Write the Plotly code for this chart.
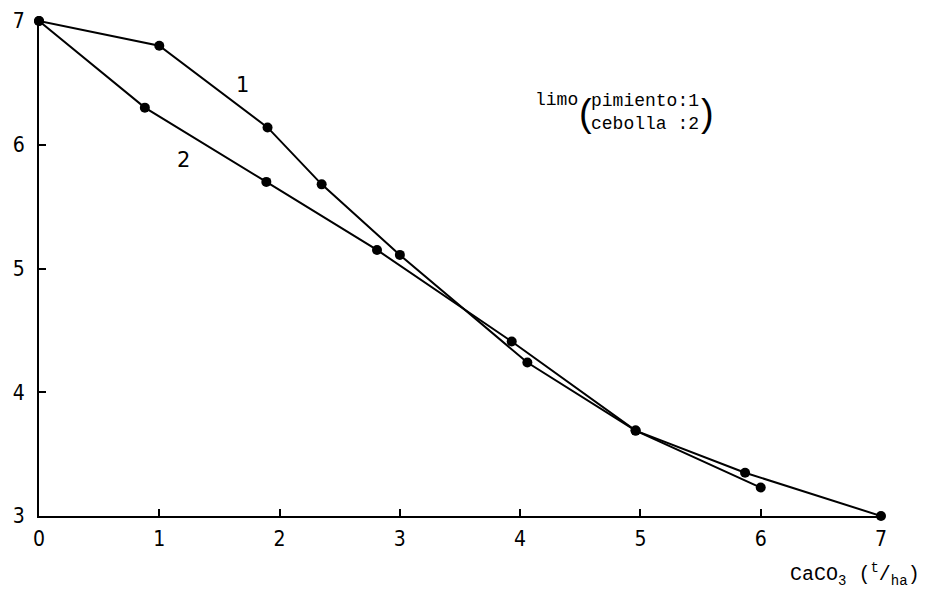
import plotly.graph_objects as go

# Series 1: pimiento
x1 = [0, 1.0, 1.9, 2.35, 3.0, 4.06, 4.96, 6.0]
y1 = [7.0, 6.8, 6.14, 5.68, 5.11, 4.24, 3.69, 3.23]
# Series 2: cebolla
x2 = [0, 0.88, 1.89, 2.81, 3.93, 4.96, 5.87, 7.0]
y2 = [7.0, 6.30, 5.70, 5.15, 4.41, 3.69, 3.35, 3.0]

xticks = [0, 1, 2, 3, 4, 5, 6, 7]
yticks = [3, 4, 5, 6, 7]

tickfont = dict(family="Liberation Sans Narrow, DejaVu Sans Condensed, Liberation Sans", size=21, color="black")
mono = "Liberation Mono, DejaVu Sans Mono, monospace"

fig = go.Figure()
for xs, ys in [(x1, y1), (x2, y2)]:
    fig.add_trace(go.Scatter(
        x=xs, y=ys, mode="lines+markers",
        line=dict(color="black", width=2),
        marker=dict(color="black", size=10),
        cliponaxis=False, showlegend=False,
    ))

fig.update_layout(
    width=917, height=587,
    margin=dict(l=31, r=44, t=13, b=79, autoexpand=False),
    plot_bgcolor="white", paper_bgcolor="white",
)
fig.update_xaxes(
    range=[0, 7], tickvals=xticks, ticktext=[str(v) for v in xticks],
    showgrid=False, zeroline=False, showline=True, linecolor="black", linewidth=2,
    ticks="inside", ticklen=7, tickwidth=1.5, tickcolor="black", tickfont=tickfont,
    automargin=False, ticklabelstandoff=3,
)
fig.update_yaxes(
    range=[3, 7], tickvals=yticks, ticktext=[str(v) for v in yticks],
    showgrid=False, zeroline=False, showline=True, linecolor="black", linewidth=2,
    ticks="inside", ticklen=7, tickwidth=1.5, tickcolor="black", tickfont=tickfont,
    automargin=False, ticklabelstandoff=8,
)

anns = [
    dict(x=1.69, y=6.48, text="1", font=dict(family="DejaVu Sans", size=21)),
    dict(x=1.20, y=5.88, text="2", font=dict(family="DejaVu Sans", size=21)),
    dict(x=4.30, y=6.36, text="limo", font=dict(family=mono, size=18)),
    dict(x=4.54, y=6.26, text="(", font=dict(family="Liberation Sans", size=38)),
    dict(x=5.04, y=6.26, text="pimiento:1<br>cebolla :2", align="left", font=dict(family=mono, size=18)),
    dict(x=5.56, y=6.26, text=")", font=dict(family="Liberation Sans", size=38)),
]
for a in anns:
    a.update(showarrow=False, xref="x", yref="y")
    a["font"]["color"] = "black"
    fig.add_annotation(**a)

fig.add_annotation(
    x=1.0, xref="paper", xanchor="right", xshift=41, y=-0.119, yref="paper", yanchor="middle",
    text="CaCO<sub>3</sub> (<sup>t</sup>/<sub>ha</sub>)", showarrow=False,
    font=dict(family=mono, size=20, color="black"),
)

fig.write_html("out.html")
